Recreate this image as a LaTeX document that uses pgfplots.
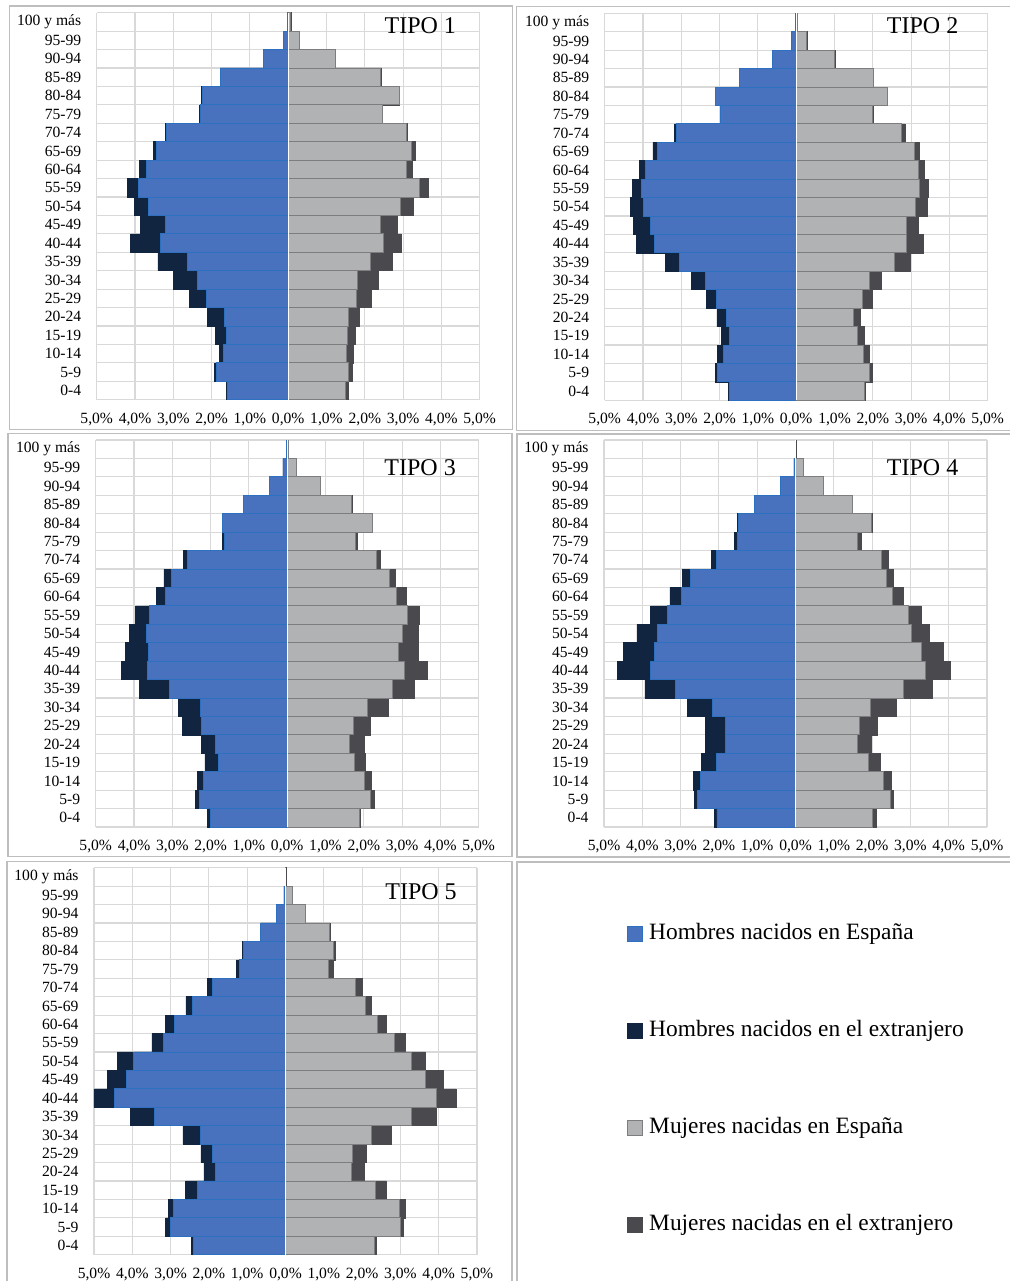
\documentclass[border=0pt]{standalone}
\usepackage{pgfplots}
\usepackage{pgfplotstable}
\pgfplotsset{compat=1.18}
\usepackage{fontspec}
\setmainfont{Liberation Serif}

\definecolor{blueES}{RGB}{72,114,190}
\definecolor{blueedge}{RGB}{46,112,192}
\definecolor{navy}{RGB}{17,36,64}
\definecolor{lgray}{RGB}{177,178,180}
\definecolor{gedge}{RGB}{125,125,128}
\definecolor{dgray}{RGB}{74,74,78}
\definecolor{gridc}{RGB}{217,217,217}
\definecolor{framec}{RGB}{190,190,190}

% y = age group index (0 = 0-4 ... 20 = 100 y mas)
% hs = hombres nacidos en Espana, he = hombres nacidos en el extranjero
% ms = mujeres nacidas en Espana, me = mujeres nacidas en el extranjero (% of population)
\pgfplotstableread{
y hs he ms me
0 1.58 0.04 1.49 0.08
1 1.87 0.06 1.58 0.10
2 1.68 0.11 1.53 0.17
3 1.62 0.29 1.54 0.22
4 1.67 0.45 1.57 0.28
5 2.14 0.44 1.77 0.41
6 2.36 0.63 1.81 0.55
7 2.64 0.76 2.15 0.57
8 3.33 0.78 2.48 0.47
9 3.21 0.64 2.42 0.42
10 3.65 0.37 2.94 0.32
11 3.90 0.30 3.42 0.24
12 3.69 0.19 3.10 0.13
13 3.43 0.09 3.23 0.10
14 3.17 0.04 3.09 0.03
15 2.30 0.01 2.46 0.01
16 2.24 0.02 2.90 0.01
17 1.77 0.01 2.42 0.01
18 0.65 0.00 1.23 0.00
19 0.12 0.00 0.29 0.00
20 0.03 0.00 0.07 0.00
}\tA
\pgfplotstableread{
y hs he ms me
0 1.73 0.03 1.79 0.02
1 2.05 0.05 1.92 0.06
2 1.91 0.14 1.75 0.15
3 1.75 0.21 1.61 0.17
4 1.82 0.25 1.49 0.18
5 2.08 0.27 1.72 0.26
6 2.36 0.38 1.91 0.32
7 3.05 0.37 2.57 0.41
8 3.69 0.48 2.89 0.42
9 3.81 0.44 2.87 0.32
10 3.99 0.33 3.12 0.30
11 4.03 0.24 3.23 0.23
12 3.94 0.15 3.18 0.17
13 3.63 0.11 3.09 0.12
14 3.12 0.07 2.75 0.10
15 1.97 0.01 1.98 0.02
16 2.11 0.01 2.37 0.01
17 1.47 0.00 2.02 0.00
18 0.61 0.00 1.01 0.00
19 0.12 0.00 0.28 0.00
20 0.03 0.00 0.04 0.00
}\tB
\pgfplotstableread{
y hs he ms me
0 2.01 0.08 1.89 0.03
1 2.30 0.09 2.17 0.10
2 2.19 0.16 2.03 0.17
3 1.80 0.35 1.76 0.29
4 1.87 0.38 1.63 0.39
5 2.23 0.50 1.73 0.44
6 2.27 0.57 2.10 0.53
7 3.07 0.78 2.74 0.59
8 3.65 0.67 3.05 0.60
9 3.62 0.60 2.91 0.51
10 3.67 0.46 3.00 0.43
11 3.59 0.37 3.14 0.32
12 3.19 0.22 2.86 0.25
13 3.02 0.20 2.68 0.14
14 2.60 0.10 2.32 0.11
15 1.63 0.06 1.77 0.06
16 1.68 0.01 2.22 0.01
17 1.15 0.00 1.69 0.00
18 0.46 0.00 0.86 0.00
19 0.11 0.00 0.23 0.00
20 0.02 0.00 0.03 0.00
}\tC
\pgfplotstableread{
y hs he ms me
0 2.05 0.06 2.01 0.09
1 2.57 0.08 2.48 0.08
2 2.48 0.19 2.30 0.20
3 2.07 0.39 1.90 0.32
4 1.84 0.51 1.63 0.36
5 1.84 0.51 1.68 0.45
6 2.16 0.66 1.95 0.68
7 3.13 0.80 2.82 0.74
8 3.79 0.86 3.38 0.67
9 3.69 0.80 3.28 0.59
10 3.60 0.54 3.03 0.47
11 3.34 0.44 2.94 0.34
12 2.98 0.30 2.53 0.29
13 2.73 0.22 2.38 0.18
14 2.07 0.13 2.24 0.17
15 1.52 0.07 1.62 0.10
16 1.48 0.03 1.97 0.03
17 1.06 0.00 1.49 0.00
18 0.38 0.00 0.72 0.00
19 0.04 0.00 0.20 0.00
20 0.01 0.00 0.01 0.00
}\tD
\pgfplotstableread{
y hs he ms me
0 2.40 0.05 2.31 0.06
1 3.01 0.12 2.99 0.08
2 2.92 0.14 2.97 0.17
3 2.31 0.30 2.34 0.29
4 1.84 0.29 1.71 0.36
5 1.90 0.31 1.76 0.35
6 2.23 0.45 2.24 0.53
7 3.41 0.65 3.29 0.64
8 4.47 0.53 3.93 0.52
9 4.16 0.50 3.66 0.46
10 3.96 0.43 3.28 0.36
11 3.18 0.31 2.84 0.30
12 2.89 0.25 2.40 0.22
13 2.43 0.17 2.08 0.17
14 1.91 0.13 1.82 0.19
15 1.19 0.10 1.12 0.13
16 1.09 0.03 1.25 0.04
17 0.65 0.00 1.16 0.00
18 0.24 0.00 0.53 0.00
19 0.04 0.00 0.18 0.00
20 0.01 0.00 0.01 0.00
}\tE

\pgfplotsset{
  pyr/.style={
    scale only axis, width=191.5pt, height=193.5pt,
    anchor=north west,
    xmin=-5, xmax=5, ymin=-0.5, ymax=20.5,
    xtick={-5,-4,-3,-2,-1,0,1,2,3,4,5},
    xticklabels={{5,0\%},{4,0\%},{3,0\%},{2,0\%},{1,0\%},{0,0\%},{1,0\%},{2,0\%},{3,0\%},{4,0\%},{5,0\%}},
    ytick={0,...,20},
    yticklabels={0-4,5-9,10-14,15-19,20-24,25-29,30-34,35-39,40-44,45-49,50-54,55-59,60-64,65-69,70-74,75-79,80-84,85-89,90-94,95-99,100 y más},
    minor ytick={-0.5,0.5,...,20.5},
    xmajorgrids, yminorgrids, ymajorgrids=false,
    major grid style={color=gridc, line width=0.55pt},
    minor grid style={color=gridc, line width=0.55pt},
    axis line style={draw=none},
    major tick length=0pt, minor tick length=0pt,
    tick style={draw=none},
    ticklabel style={font=\fontsize{7.8}{8}\selectfont},
    yticklabel style={xshift=-4.2pt},
    xticklabel style={yshift=-3.0pt},
    /pgf/number format/assume math mode=true,
    xbar, bar width=1, bar shift=0pt,
  },
  men tot/.style={fill=navy, draw=navy, line width=0.3pt},
  men es/.style={fill=blueES, draw=blueedge, line width=0.45pt},
  wom tot/.style={fill=dgray, draw=dgray, line width=0.3pt},
  wom es/.style={fill=lgray, draw=gedge, line width=0.45pt},
}

\newcommand{\pyramid}[1]{%
  \addplot[men tot] table[x expr={-(\thisrow{hs}+\thisrow{he})}, y=y] {#1};
  \addplot[men es] table[x expr={-\thisrow{hs}}, y=y] {#1};
  \addplot[wom tot] table[x expr={\thisrow{ms}+\thisrow{me}}, y=y] {#1};
  \addplot[wom es] table[x=ms, y=y] {#1};
  \draw[white, line width=0.6pt] (axis cs:0,-0.5) -- (axis cs:0,20.5);
}
\newcommand{\tipo}[3]{\node[font=\fontsize{12}{14}\selectfont, inner sep=0pt] at (rel axis cs:#1,#2) {#3};}

\begin{document}
\begin{tikzpicture}
\useasboundingbox (0,0) rectangle (505pt,-640.5pt);
\fill[white] (0,0) rectangle (505pt,-640.5pt);
% panel frames
\begin{scope}[framec, line width=0.6pt]
\draw (4.6pt,-3pt) rectangle (256.3pt,-214.7pt);
\draw (258.4pt,-3.2pt) rectangle (507pt,-215.3pt);
\draw (4pt,-216.7pt) rectangle (256pt,-428.3pt);
\draw (258.5pt,-217pt) rectangle (507pt,-428.5pt);
\draw (3.5pt,-430.9pt) rectangle (256pt,-645pt);
\draw (258.5pt,-431pt) rectangle (507pt,-645pt);
\end{scope}

\begin{axis}[pyr, at={(48.35pt,-6.35pt)}]
\pyramid{\tA}
\tipo{0.845}{0.966}{TIPO 1}
\end{axis}

\begin{axis}[pyr, at={(302.35pt,-6.65pt)}]
\pyramid{\tB}
\tipo{0.83}{0.968}{TIPO 2}
\end{axis}

\begin{axis}[pyr, at={(47.85pt,-220pt)}]
\pyramid{\tC}
\tipo{0.847}{0.928}{TIPO 3}
\end{axis}

\begin{axis}[pyr, at={(302pt,-220pt)}]
\pyramid{\tD}
\tipo{0.832}{0.928}{TIPO 4}
\end{axis}

\begin{axis}[pyr, at={(47pt,-433.85pt)}]
\pyramid{\tE}
\tipo{0.854}{0.938}{TIPO 5}
\end{axis}

% legend panel
\begin{axis}[hide axis, scale only axis, width=10pt, height=10pt,
  at={(313.5pt,-461.7pt)}, anchor=north west,
  xmin=0, xmax=1, ymin=0, ymax=1,
  legend image code/.code={\draw[#1] (0pt,-3.75pt) rectangle (7.5pt,3.75pt);},
  legend cell align=left,
  legend style={at={(0,1)}, anchor=north west, draw=none, fill=none,
    inner sep=0pt, outer sep=0pt, row sep=37.9pt,
    font=\fontsize{11.7}{14}\selectfont,
    nodes={inner sep=0pt, outer sep=0pt, text height=8pt, text depth=2.6pt},
    /tikz/every odd column/.append style={column sep=3.15pt}},
]
\addlegendimage{fill=blueES, draw=blueedge, line width=0.45pt}
\addlegendentry{Hombres nacidos en España}
\addlegendimage{fill=navy, draw=navy}
\addlegendentry{Hombres nacidos en el extranjero}
\addlegendimage{fill=lgray, draw=gedge, line width=0.45pt}
\addlegendentry{Mujeres nacidas en España}
\addlegendimage{fill=dgray, draw=dgray}
\addlegendentry{Mujeres nacidas en el extranjero}
\end{axis}
\end{tikzpicture}
\end{document}
